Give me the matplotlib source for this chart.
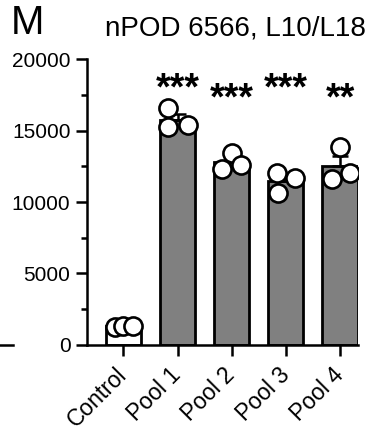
import matplotlib
matplotlib.use("Agg")
import matplotlib.pyplot as plt
import numpy as np
from matplotlib.lines import Line2D

plt.rcParams['font.family'] = ['Liberation Sans', 'DejaVu Sans']

categories = ["Control", "Pool 1", "Pool 2", "Pool 3", "Pool 4"]
replicates = [
    [1250, 1350, 1300],
    [16550, 15250, 15400],
    [13400, 12300, 12600],
    [12030, 10630, 11680],
    [13850, 11610, 12030],
]
significance = ["", "***", "***", "***", "**"]
sig_heights = [0, 17200, 16500, 17200, 16500]
bar_colors = ["white", "#808080", "#808080", "#808080", "#808080"]
yticks = [0, 5000, 10000, 15000, 20000]
title = "nPOD 6566, L10/L18"
panel_label = "M"

fig = plt.figure(figsize=(3.72, 4.32), dpi=100)
ax = fig.add_axes([0.234, 0.2014, 0.728, 0.662])

x = np.arange(len(categories))
means = [np.mean(r) for r in replicates]
sems = [np.std(r, ddof=1) / np.sqrt(len(r)) for r in replicates]

ax.bar(x, means, width=0.65, color=bar_colors, edgecolor="black", linewidth=2.0, zorder=2)
ax.errorbar(x, means, yerr=[np.zeros(len(x)), sems], fmt="none", ecolor="black",
            elinewidth=1.8, capsize=5.5, capthick=1.8, zorder=3)
pt_offsets = [[-0.15, 0.0, 0.18], [-0.17, -0.17, 0.19], [0.0, -0.17, 0.17],
              [-0.17, -0.15, 0.17], [0.0, -0.15, 0.18]]
for i, r in enumerate(replicates):
    ax.scatter(x[i] + np.array(pt_offsets[i]), r, s=170, facecolor="white",
               edgecolor="black", linewidth=1.9, zorder=4)
for i, s in enumerate(significance):
    if s:
        ax.text(x[i], sig_heights[i], s, ha="center", va="baseline",
                fontsize=27, fontweight="bold")

ax.set_xlim(-0.67, 4.33)
ax.set_ylim(0, 20000)
ax.set_yticks(yticks)
ax.set_yticks(np.arange(2500, 20000, 5000), minor=True)
ax.set_xticks(x)
ax.set_xticklabels(categories, rotation=45, ha="right", va="center",
                   rotation_mode="anchor", fontsize=16.5)
ax.tick_params(axis="y", labelsize=15, length=8, width=1.8, pad=4)
ax.tick_params(axis="y", which="minor", length=4, width=1.8)
ax.tick_params(axis="x", length=8, width=1.8, pad=11)
for sp in ["top", "right"]:
    ax.spines[sp].set_visible(False)
for sp in ["left", "bottom"]:
    ax.spines[sp].set_linewidth(1.8)

fig.text(0.632, 0.934, title, ha="center", va="center", fontsize=20)
fig.text(0.03, 0.99, panel_label, ha="left", va="top", fontsize=29)
fig.add_artist(Line2D([0.0, 0.035], [0.2014, 0.2014], color="black", linewidth=1.8))

fig.savefig("out.png", dpi=100)
